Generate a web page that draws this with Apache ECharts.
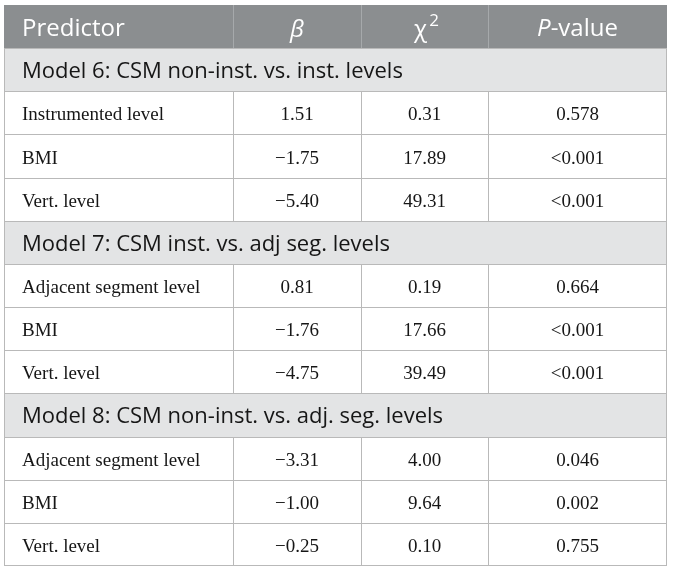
<!DOCTYPE html>
<html><head><meta charset="utf-8">
<script src="https://cdn.jsdelivr.net/npm/echarts@6/dist/echarts.min.js"></script>
<style>html,body{margin:0;padding:0;background:#fff}#c{width:673px;height:572px}</style>
</head><body><div id="c"></div>
<script>
// ---- table content ----
const headers = ['Predictor', 'β', 'χ2', 'P-value'];
const modelTitles = [
  'Model 6: CSM non-inst. vs. inst. levels',
  'Model 7: CSM inst. vs. adj seg. levels',
  'Model 8: CSM non-inst. vs. adj. seg. levels'
];
const predictors = [
  'Instrumented level', 'BMI', 'Vert. level',
  'Adjacent segment level', 'BMI', 'Vert. level',
  'Adjacent segment level', 'BMI', 'Vert. level'
];
const betaValues = [1.51, -1.75, -5.40, 0.81, -1.76, -4.75, -3.31, -1.00, -0.25];
const chiSquare = [0.31, 17.89, 49.31, 0.19, 17.66, 39.49, 4.00, 9.64, 0.10];
const pValues = ['0.578', '<0.001', '<0.001', '0.664', '<0.001', '<0.001', '0.046', '0.002', '0.755'];
const rowsPerModel = 3;

// ---- layout (not data) ----
const colEdges = [0, 229, 357, 484, 663];
const C = {
  header: '#8b8e90', headerDiv: '#a6a9ab', section: '#e3e4e5',
  border: '#b9b9b9', text: '#161616'
};
const SANS = '"Open Sans", "Noto Sans", sans-serif';
const SERIF = '"Liberation Serif", "DejaVu Serif", serif';

const rows = [{ kind: 'header' }];
modelTitles.forEach((t, m) => {
  rows.push({ kind: 'section', text: t });
  for (let k = 0; k < rowsPerModel; k++) rows.push({ kind: 'data', idx: m * rowsPerModel + k });
});

const fmt = v => (v < 0 ? '\u2212' : '') + Math.abs(v).toFixed(2);

function renderItem(params, api) {
  const ri = api.value(0);
  const r = rows[ri];
  const yc = api.coord([0, ri])[1];
  const h = api.size([0, 1])[1];
  const top = Math.round(yc - h / 2), bot = Math.round(yc + h / 2);
  const xs = colEdges.map(e => Math.round(api.coord([e, ri])[0]));
  const W = xs[4] - xs[0];
  const ch = [];
  const bg = r.kind === 'header' ? C.header : (r.kind === 'section' ? C.section : '#ffffff');
  ch.push({ type: 'rect', shape: { x: xs[0], y: top, width: W, height: bot - top }, style: { fill: bg } });
  ch.push({ type: 'rect', shape: { x: xs[0], y: top, width: W, height: 1 }, style: { fill: r.kind === 'header' ? C.header : C.border } });
  if (ri === rows.length - 1) {
    ch.push({ type: 'rect', shape: { x: xs[0], y: bot - 1, width: W, height: 1 }, style: { fill: C.border } });
  }
  ch.push({ type: 'rect', shape: { x: xs[0], y: top, width: 1, height: bot - top }, style: { fill: r.kind === 'header' ? C.header : C.border } });
  ch.push({ type: 'rect', shape: { x: xs[4] - 1, y: top, width: 1, height: bot - top }, style: { fill: r.kind === 'header' ? C.header : C.border } });
  if (r.kind !== 'section') {
    for (let j = 1; j < 4; j++) {
      ch.push({ type: 'rect', shape: { x: xs[j], y: top, width: 1, height: bot - top }, style: { fill: r.kind === 'header' ? C.headerDiv : C.border } });
    }
  }
  const cx = j => (xs[j] + xs[j + 1]) / 2;
  const mid = (top + bot) / 2;
  if (r.kind === 'header') {
    const ty = mid + 3;
    const base = { fill: '#ffffff', fontFamily: SANS, fontSize: 24, verticalAlign: 'middle' };
    ch.push({ type: 'text', style: Object.assign({}, base, { text: headers[0], x: xs[0] + 18, y: ty, align: 'left' }) });
    ch.push({ type: 'text', style: Object.assign({}, base, { text: headers[1], x: cx(1), y: ty + 1, align: 'center', fontStyle: 'italic' }) });
    ch.push({ type: 'text', style: Object.assign({}, base, {
      text: '{c|' + headers[2].charAt(0) + '}{s|' + headers[2].slice(1) + '}', x: cx(2) + 2, y: ty - 2, align: 'center',
      rich: {
        c: { fill: '#fff', fontFamily: SANS, fontSize: 24, lineHeight: 30, verticalAlign: 'bottom' },
        s: { fill: '#fff', fontFamily: SANS, fontSize: 17, lineHeight: 18, verticalAlign: 'top', padding: [0, 0, 0, 2] }
      }
    }) });
    ch.push({ type: 'text', style: Object.assign({}, base, {
      text: '{i|' + headers[3].charAt(0) + '}{n|' + headers[3].slice(1) + '}', x: cx(3), y: ty, align: 'center',
      rich: {
        i: { fill: '#fff', fontFamily: SANS, fontSize: 24, fontStyle: 'italic' },
        n: { fill: '#fff', fontFamily: SANS, fontSize: 24 }
      }
    }) });
  } else if (r.kind === 'section') {
    ch.push({ type: 'text', style: { text: r.text, x: xs[0] + 18, y: mid + 2, align: 'left', verticalAlign: 'middle', fill: C.text, fontFamily: SANS, fontSize: 22 } });
  } else {
    const i = r.idx;
    const base = { fill: C.text, fontFamily: SERIF, fontSize: 19, verticalAlign: 'middle', y: mid + 3 };
    ch.push({ type: 'text', style: Object.assign({}, base, { text: predictors[i], x: xs[0] + 18, align: 'left' }) });
    ch.push({ type: 'text', style: Object.assign({}, base, { text: fmt(betaValues[i]), x: cx(1), align: 'center' }) });
    ch.push({ type: 'text', style: Object.assign({}, base, { text: chiSquare[i].toFixed(2), x: cx(2), align: 'center' }) });
    ch.push({ type: 'text', style: Object.assign({}, base, { text: pValues[i], x: cx(3), align: 'center' }) });
  }
  return { type: 'group', children: ch };
}

const chart = echarts.init(document.getElementById('c'), null, { renderer: 'canvas' });
chart.setOption({
  animation: false,
  grid: { left: 4, right: 6, top: 5, bottom: 6, containLabel: false },
  xAxis: { type: 'value', min: colEdges[0], max: colEdges[colEdges.length - 1], show: false },
  yAxis: { type: 'category', data: rows.map((r, i) => String(i)), inverse: true, show: false, boundaryGap: true },
  series: [{
    type: 'custom',
    renderItem: renderItem,
    data: rows.map((r, i) => [i]),
    encode: { y: 0 },
    clip: false
  }]
});
</script></body></html>
